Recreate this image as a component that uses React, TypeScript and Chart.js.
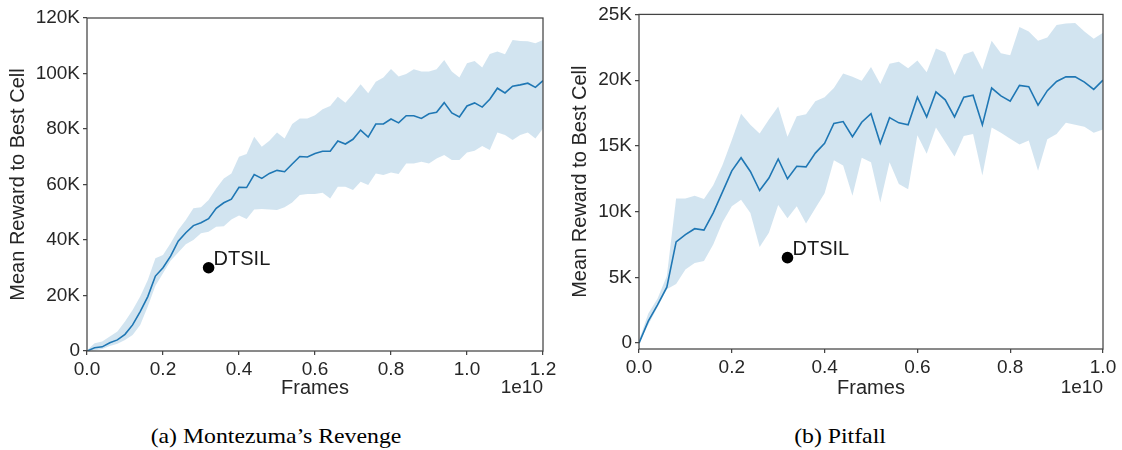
import React, { useEffect, useRef } from 'react';
import { Chart, registerables } from 'chart.js';

Chart.register(...registerables);

// ---------- data (x in units of 1e10 frames, y in thousands) ----------
const FRAMES_A = [0, 0.02, 0.04, 0.06, 0.08, 0.1, 0.12, 0.14, 0.16, 0.18, 0.2, 0.22, 0.24, 0.26, 0.28, 0.3, 0.32, 0.34, 0.36, 0.38, 0.4, 0.42, 0.44, 0.46, 0.48, 0.5, 0.52, 0.54, 0.56, 0.58, 0.6, 0.62, 0.64, 0.66, 0.68, 0.7, 0.72, 0.74, 0.76, 0.78, 0.8, 0.82, 0.84, 0.86, 0.88, 0.9, 0.92, 0.94, 0.96, 0.98, 1.0, 1.02, 1.04, 1.06, 1.08, 1.1, 1.12, 1.14, 1.16, 1.18, 1.2];
const MEAN_A = [0, 1.2, 1.5, 3, 4, 6, 9.4, 14.2, 19.6, 27, 30, 34.2, 39.6, 42.6, 45.2, 46.2, 47.7, 51.4, 53.4, 54.7, 59, 58.9, 63.6, 62.2, 64, 65.1, 64.6, 67.4, 70.1, 69.9, 71.2, 72, 72, 75.7, 74.6, 76.3, 79.6, 77.1, 81.8, 81.8, 83.6, 82.2, 84.8, 84.8, 83.8, 85.5, 86, 89.5, 85.8, 84.3, 88.3, 89.4, 87.9, 90.7, 94.7, 93, 95.4, 95.9, 96.5, 95, 97.4];
const UPPER_A = [0.3, 2.8, 3.4, 5.2, 7, 10.6, 14.8, 19.6, 25.6, 33.4, 34.6, 38.8, 43.6, 47.2, 51.4, 51.8, 54.4, 58.6, 62.2, 64, 70, 71, 77.2, 73.6, 75.8, 78.7, 76.6, 81.8, 83.8, 83.8, 85, 87.1, 88.3, 91.6, 89.5, 92.6, 96.1, 92.9, 97, 98.6, 101.6, 98.9, 99.8, 101.5, 100.7, 100.7, 101.5, 104.9, 100.7, 98.6, 103.7, 104.5, 102.2, 107, 107.9, 106.9, 112.1, 111.7, 111.6, 110.9, 112.1];
const LOWER_A = [0, 0.2, 0.7, 1.8, 2.6, 4, 5.8, 9.4, 16, 23.5, 28, 32.5, 35.5, 38.5, 40, 42.4, 43, 44.8, 45, 47.4, 48.8, 47.6, 51, 51.2, 51, 50.8, 51.8, 53.5, 56.2, 56.6, 56.6, 57, 55, 59.2, 59.2, 58, 61, 59.8, 64, 63.4, 64.3, 63.8, 67.6, 67.6, 68.2, 67.6, 69.4, 70.6, 68.8, 68.8, 71.5, 72.2, 73.9, 72.4, 78.7, 77.8, 76, 77.8, 78.7, 76.6, 80.2];
const DTSIL_A = { x: 0.32, y: 30 };
const X_TICKS_A = [0, 0.2, 0.4, 0.6, 0.8, 1.0, 1.2];
const Y_TICKS_A = [0, 20, 40, 60, 80, 100, 120];

const FRAMES_B = [0, 0.02, 0.04, 0.06, 0.08, 0.1, 0.12, 0.14, 0.16, 0.18, 0.2, 0.22, 0.24, 0.26, 0.28, 0.3, 0.32, 0.34, 0.36, 0.38, 0.4, 0.42, 0.44, 0.46, 0.48, 0.5, 0.52, 0.54, 0.56, 0.58, 0.6, 0.62, 0.64, 0.66, 0.68, 0.7, 0.72, 0.74, 0.76, 0.78, 0.8, 0.82, 0.84, 0.86, 0.88, 0.9, 0.92, 0.94, 0.96, 0.98, 1.0];
const MEAN_B = [0, 1.67, 2.9, 4.25, 7.7, 8.25, 8.7, 8.6, 9.9, 11.5, 13.1, 14.1, 13.05, 11.6, 12.55, 14, 12.5, 13.45, 13.4, 14.45, 15.2, 16.7, 16.85, 15.7, 16.8, 17.45, 15.2, 17.15, 16.75, 16.6, 18.7, 17.2, 19.1, 18.5, 17.2, 18.7, 18.85, 16.6, 19.4, 18.8, 18.4, 19.6, 19.5, 18.1, 19.2, 19.9, 20.25, 20.25, 19.85, 19.3, 20.0];
const UPPER_B = [0.2, 2.25, 3.4, 5.1, 11, 11, 11.2, 10.95, 12, 13.55, 15.45, 17.45, 16.6, 15.95, 17, 18, 15.7, 17.25, 17.4, 18.4, 18.7, 19.4, 20.5, 20.25, 19.95, 21, 19.7, 21.25, 21.4, 20.9, 21.5, 20.6, 22.4, 22.1, 20.4, 21.95, 22.2, 20.8, 23, 22.05, 21.9, 24.05, 23.7, 23, 23.25, 24.2, 24.3, 24.35, 23.7, 23.15, 23.6];
const LOWER_B = [0, 1.4, 2.75, 4.1, 4.5, 5.6, 6.1, 6.25, 7.5, 9.2, 10.4, 10.9, 9.9, 7.3, 8.4, 10.5, 9.5, 10.4, 9.1, 10.25, 11.4, 13.9, 13.5, 11.2, 14.1, 13.75, 10.7, 13.75, 12.1, 11.7, 15.8, 14.4, 16.4, 15.3, 14.2, 15.75, 15.9, 12.75, 16.4, 16, 15.55, 15.1, 15.4, 13.1, 15.5, 15.9, 16.75, 16.6, 16.45, 16, 16.25];
const DTSIL_B = { x: 0.32, y: 6.5 };
const X_TICKS_B = [0, 0.2, 0.4, 0.6, 0.8, 1.0];
const Y_TICKS_B = [0, 5, 10, 15, 20, 25];

const CAPTION_A = '(a) Montezuma\u2019s Revenge';
const CAPTION_B = '(b) Pitfall';

// ---------- styling ----------
const FONT = '"Liberation Sans", Arial, Helvetica, sans-serif';
const TEXT = '#262626';
const SPINE = '#444444';
const LINE = '#1f77b4';
const BAND = 'rgba(31,119,180,0.2)';

type PanelProps = {
  left: number;
  width: number;
  height: number;
  frames: number[];
  mean: number[];
  upper: number[];
  lower: number[];
  dtsil: { x: number; y: number };
  xTicks: number[];
  yTicks: number[];
  xMax: number;
  yMin: number;
  yMax: number;
  yAxisWidth: number;
  xAxisHeight: number;
  padTop: number;
  padRight: number;
  yTitlePad: number;
};

function Panel(p: PanelProps) {
  const ref = useRef<HTMLCanvasElement | null>(null);

  useEffect(() => {
    if (!ref.current) return;
    const pts = (ys: number[]) => p.frames.map((x, i) => ({ x, y: ys[i] }));

    const labelsPlugin = {
      id: 'frameAndLabels',
      afterDraw(chart: any) {
        const { ctx, chartArea: a, scales } = chart;
        ctx.save();
        ctx.strokeStyle = SPINE;
        ctx.lineWidth = 1.25;
        ctx.strokeRect(a.left, a.top, a.right - a.left, a.bottom - a.top);
        ctx.fillStyle = TEXT;
        ctx.font = `19px ${FONT}`;
        ctx.textAlign = 'right';
        ctx.textBaseline = 'middle';
        ctx.fillText('1e10', a.right, chart.height - 12);
        const px = scales.x.getPixelForValue(p.dtsil.x);
        const py = scales.y.getPixelForValue(p.dtsil.y);
        ctx.font = `20px ${FONT}`;
        ctx.textAlign = 'left';
        ctx.textBaseline = 'alphabetic';
        ctx.fillStyle = '#1a1a1a';
        ctx.fillText('DTSIL', px + 5, py - 2.5);
        ctx.restore();
      },
    };

    const chart = new Chart(ref.current, {
      type: 'line',
      data: {
        datasets: [
          {
            label: 'upper',
            data: pts(p.upper),
            borderWidth: 0,
            borderColor: 'rgba(0,0,0,0)',
            pointRadius: 0,
            fill: false,
            order: 3,
          },
          {
            label: 'lower',
            data: pts(p.lower),
            borderWidth: 0,
            borderColor: 'rgba(0,0,0,0)',
            backgroundColor: BAND,
            pointRadius: 0,
            fill: '-1',
            order: 2,
          },
          {
            label: 'mean',
            data: pts(p.mean),
            borderWidth: 1.6,
            borderColor: LINE,
            pointRadius: 0,
            fill: false,
            tension: 0,
            order: 1,
          },
          {
            label: 'DTSIL',
            data: [{ x: p.dtsil.x, y: p.dtsil.y }],
            showLine: false,
            pointRadius: 5.8,
            pointBackgroundColor: '#000',
            pointBorderColor: '#000',
            pointBorderWidth: 0,
            order: 0,
          },
        ],
      } as any,
      options: {
        animation: false,
        responsive: false,
        maintainAspectRatio: false,
        devicePixelRatio: 1,
        layout: { padding: { top: p.padTop, right: p.padRight, left: 0, bottom: 0 } },
        plugins: {
          legend: { display: false },
          tooltip: { enabled: false },
        },
        scales: {
          x: {
            type: 'linear',
            min: 0,
            max: p.xMax,
            afterBuildTicks: (s: any) => {
              s.ticks = p.xTicks.map((v) => ({ value: v }));
            },
            afterFit: (s: any) => {
              s.height = p.xAxisHeight;
            },
            ticks: {
              callback: (v: any) => Number(v).toFixed(1),
              font: { family: FONT, size: 19 },
              color: TEXT,
              padding: 3,
              maxRotation: 0,
              autoSkip: false,
            },
            grid: {
              display: true,
              drawOnChartArea: false,
              drawTicks: true,
              tickLength: 4,
              color: SPINE,
              lineWidth: 1.25,
            },
            border: { display: false },
            title: {
              display: true,
              text: 'Frames',
              font: { family: FONT, size: 20 },
              color: TEXT,
              padding: { top: 0, bottom: 0 },
            },
          },
          y: {
            type: 'linear',
            min: p.yMin,
            max: p.yMax,
            afterBuildTicks: (s: any) => {
              s.ticks = p.yTicks.map((v) => ({ value: v }));
            },
            afterFit: (s: any) => {
              s.width = p.yAxisWidth;
            },
            ticks: {
              callback: (v: any) => (Number(v) === 0 ? '0' : `${v}K`),
              font: { family: FONT, size: 19 },
              color: TEXT,
              padding: 3,
              autoSkip: false,
            },
            grid: {
              display: true,
              drawOnChartArea: false,
              drawTicks: true,
              tickLength: 4,
              color: SPINE,
              lineWidth: 1.25,
            },
            border: { display: false },
            title: {
              display: true,
              text: 'Mean Reward to Best Cell',
              font: { family: FONT, size: 20 },
              color: TEXT,
              padding: { top: p.yTitlePad, bottom: 0 },
            },
          },
        },
      } as any,
      plugins: [labelsPlugin],
    });
    return () => chart.destroy();
  }, []);

  return (
    <canvas
      ref={ref}
      width={p.width}
      height={p.height}
      style={{ position: 'absolute', left: p.left, top: 0, width: p.width, height: p.height }}
    />
  );
}

const captionStyle: React.CSSProperties = {
  position: 'absolute',
  top: 425,
  fontFamily: '"Liberation Serif", "Times New Roman", serif',
  fontSize: 22,
  lineHeight: '22px',
  color: '#000',
  textAlign: 'center',
  whiteSpace: 'nowrap',
  transform: 'scaleX(1.08)',
};

export default function App() {
  return (
    <div
      style={{
        position: 'fixed',
        left: 0,
        top: 0,
        width: 1122,
        height: 450,
        background: '#fff',
        overflow: 'hidden',
      }}
    >
      <Panel
        left={0}
        width={560}
        height={400}
        frames={FRAMES_A}
        mean={MEAN_A}
        upper={UPPER_A}
        lower={LOWER_A}
        dtsil={DTSIL_A}
        xTicks={X_TICKS_A}
        yTicks={Y_TICKS_A}
        xMax={1.2}
        yMin={0}
        yMax={120}
        yAxisWidth={87}
        xAxisHeight={49}
        padTop={18}
        padRight={17}
        yTitlePad={6}
      />
      <Panel
        left={560}
        width={562}
        height={400}
        frames={FRAMES_B}
        mean={MEAN_B}
        upper={UPPER_B}
        lower={LOWER_B}
        dtsil={DTSIL_B}
        xTicks={X_TICKS_B}
        yTicks={Y_TICKS_B}
        xMax={1.0}
        yMin={-0.45}
        yMax={25}
        yAxisWidth={79}
        xAxisHeight={51}
        padTop={11}
        padRight={19}
        yTitlePad={8}
      />
      <div style={{ ...captionStyle, left: 0, width: 552 }}>{CAPTION_A}</div>
      <div style={{ ...captionStyle, left: 560, width: 560 }}>{CAPTION_B}</div>
    </div>
  );
}
